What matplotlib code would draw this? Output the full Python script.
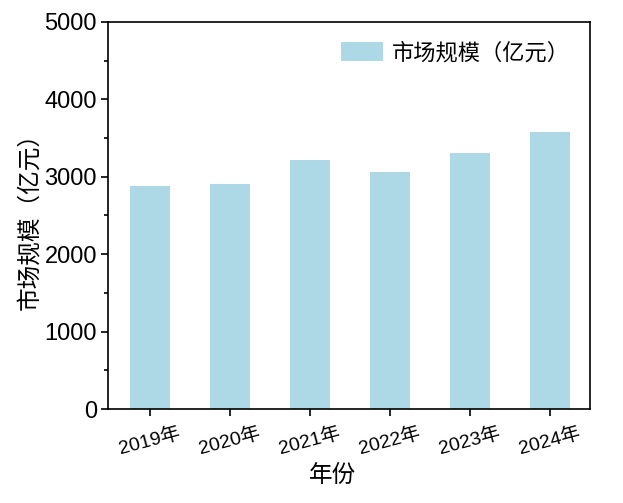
import matplotlib
matplotlib.use('Agg')
import matplotlib.pyplot as plt
from matplotlib.ticker import MultipleLocator

plt.rcParams['font.family'] = ['Liberation Sans', 'Noto Sans CJK SC']
plt.rcParams['axes.unicode_minus'] = False

# 数据
years = ['2019年', '2020年', '2021年', '2022年', '2023年', '2024年']
market_size = [2880, 2905, 3220, 3060, 3310, 3580]

fig = plt.figure(figsize=(6.23, 5.03), dpi=100)
ax = fig.add_axes([108 / 623, 1 - 409 / 503, (590 - 108) / 623, (409 - 22) / 503])

x = range(len(years))
ax.bar(x, market_size, width=0.5, color='#add8e6', label='市场规模（亿元）')

ax.set_xlim(-0.52, 5.5)
ax.set_ylim(0, 5000)
ax.yaxis.set_major_locator(MultipleLocator(1000))
ax.yaxis.set_minor_locator(MultipleLocator(500))
ax.set_xticks(list(x))
ax.set_xticklabels(years, rotation=15, fontsize=14)
ax.tick_params(axis='y', which='major', labelsize=17, direction='out', length=5, width=1.2, pad=3)
ax.tick_params(axis='y', which='minor', direction='out', length=3, width=1.2)
ax.tick_params(axis='x', direction='out', length=5, width=1.2, pad=6)

for s in ax.spines.values():
    s.set_linewidth(1.2)

ax.set_xlabel('年份', fontsize=17, labelpad=6)
ax.xaxis.set_label_coords(0.465, -0.145)
ax.set_ylabel('市场规模（亿元）', fontsize=17, labelpad=2)

ax.legend(loc='upper right', frameon=False, fontsize=16, handlelength=1.9,
          handleheight=0.95, handletextpad=0.4, borderaxespad=0.5)

fig.savefig('out.png', dpi=100)
